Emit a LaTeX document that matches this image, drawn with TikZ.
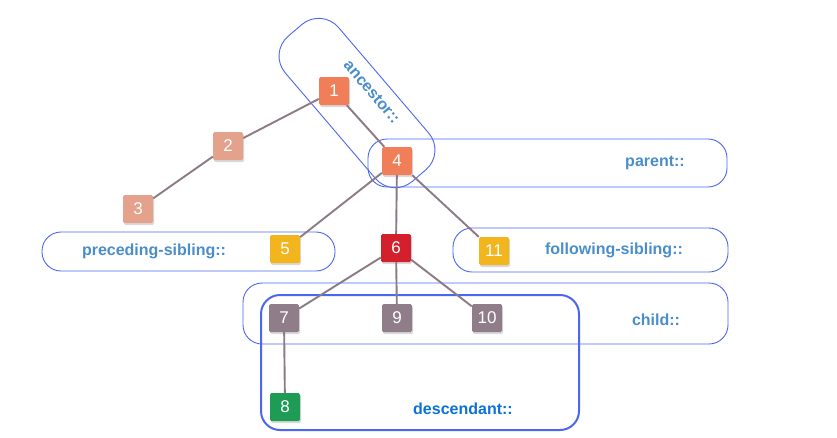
\documentclass[tikz,border=0pt]{standalone}
\usepackage{fontspec}
\setmainfont{Liberation Sans}
\usetikzlibrary{shadows}
\definecolor{axisblue}{HTML}{4B66F0}
\definecolor{labelblue}{HTML}{4A8DCB}
\definecolor{descblue}{HTML}{0B70D8}
\definecolor{edgegrey}{HTML}{8C7A86}
\definecolor{selforange}{HTML}{F07E58}
\definecolor{fadeorange}{HTML}{E4A28C}
\definecolor{sibyellow}{HTML}{F2B51E}
\definecolor{selfred}{HTML}{D2202C}
\definecolor{kidgrey}{HTML}{8F7E8A}
\definecolor{descgreen}{HTML}{1E9B55}
\begin{document}
\begin{tikzpicture}[x=1pt,y=-1pt,line join=round,
  num/.style={rectangle,rounded corners=1.5pt,minimum width=30pt,minimum height=28pt,inner sep=0pt,
    text=white,font=\fontsize{17}{17}\selectfont,
    drop shadow={opacity=0.3,shadow xshift=1pt,shadow yshift=-2pt}},
  axisbox/.style={draw=axisblue,line width=0.9pt,rounded corners=19pt},
  axislabel/.style={text=labelblue,font=\fontsize{16}{16}\selectfont\bfseries},
  tie/.style={draw=edgegrey,line width=1.9pt}]
  \useasboundingbox (0,0) rectangle (837,437);
  \draw[axisbox] (42,232) rectangle (335,271);
  \draw[axisbox] (453,228) rectangle (728,272);
  \draw[axisbox] (368,139) rectangle (727,187);
  \draw[axisbox] (243,283) rectangle (728,344);
  \draw[axisbox,line width=2pt] (261,295) rectangle (579,430);
  \node[axisbox,minimum width=191pt,minimum height=70pt,rounded corners=26pt,rotate=-49.5] (ancbox) at (357,103) {};
  \node[axislabel,rotate=-49.5] (ancl) at (372,92) {ancestor::};
  \node[axislabel] (precl) at (154,251) {preceding-sibling::};
  \node[axislabel] (folll) at (614,250) {following-sibling::};
  \node[axislabel] (parl) at (655,163) {parent::};
  \node[axislabel] (childl) at (656,320) {child::};
  \node[axislabel,text=descblue] (descl) at (463,409) {descendant::};
  \node[num,fill=selforange] (n1) at (334,91) {1};
  \node[num,fill=fadeorange] (n2) at (228,146) {2};
  \node[num,fill=fadeorange] (n3) at (138,209) {3};
  \node[num,fill=selforange] (n4) at (397,161) {4};
  \node[num,fill=sibyellow] (n5) at (285,249) {5};
  \node[num,fill=selfred] (n6) at (396,248) {6};
  \node[num,fill=sibyellow] (n11) at (494,251) {11};
  \node[num,fill=kidgrey] (n7) at (284,318) {7};
  \node[num,fill=kidgrey] (n9) at (397,318) {9};
  \node[num,fill=kidgrey] (n10) at (487,318) {10};
  \node[num,fill=descgreen] (n8) at (285,407) {8};
  \draw[tie] (n1) -- (n2);
  \draw[tie] (n2) -- (n3);
  \draw[tie] (n1) -- (n4);
  \draw[tie] (n4) -- (n5);
  \draw[tie] (n4) -- (n6);
  \draw[tie] (n4) -- (n11);
  \draw[tie] (n6) -- (n7);
  \draw[tie] (n6) -- (n9);
  \draw[tie] (n6) -- (n10);
  \draw[tie] (n7) -- (n8);
\end{tikzpicture}
\end{document}
